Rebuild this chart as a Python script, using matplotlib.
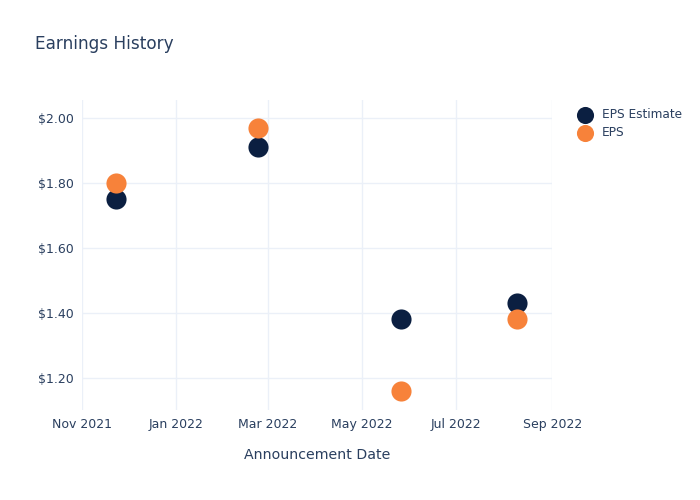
import matplotlib.pyplot as plt
import matplotlib.dates as mdates
from matplotlib.ticker import FuncFormatter
import datetime as dt

dates = ["2021-11-23", "2022-02-23", "2022-05-26", "2022-08-09"]
eps_estimate = [1.75, 1.91, 1.38, 1.43]
eps_actual = [1.80, 1.97, 1.16, 1.38]

x = [dt.datetime.strptime(d, "%Y-%m-%d") for d in dates]
text_col = '#2a3f5f'
grid_col = '#ebf0f8'

fig = plt.figure(figsize=(7, 5), dpi=100)
ax = fig.add_axes([0.117, 0.18, 0.672, 0.62])

ax.scatter(x, eps_estimate, s=210, color='#0b1f41', label='EPS Estimate', zorder=3, linewidths=0)
ax.scatter(x, eps_actual, s=210, color='#f7823a', label='EPS', zorder=3, linewidths=0)

ax.set_xlim(dt.datetime(2021, 11, 1), dt.datetime(2022, 9, 1))
ax.set_ylim(1.10, 2.055)
ax.set_yticks([1.2, 1.4, 1.6, 1.8, 2.0])
ax.yaxis.set_major_formatter(FuncFormatter(lambda v, p: '$%.2f' % v))
ax.xaxis.set_major_locator(mdates.MonthLocator(bymonth=[1, 3, 5, 7, 9, 11]))
ax.xaxis.set_major_formatter(mdates.DateFormatter('%b %Y'))

ax.grid(True, color=grid_col, linewidth=1)
ax.set_axisbelow(True)
for s in ax.spines.values():
    s.set_visible(False)
ax.tick_params(length=0, colors=text_col, labelsize=9, pad=6)

ax.set_xlabel('Announcement Date', fontsize=10.2, color=text_col, labelpad=12)
fig.text(0.05, 0.912, 'Earnings History', fontsize=12.2, color=text_col, va='center')

leg = ax.legend(loc='upper left', bbox_to_anchor=(1.02, 1.01), frameon=False,
                fontsize=8.7, labelcolor=text_col, handletextpad=0.4, labelspacing=0.45,
                markerscale=0.85)

fig.savefig('out.png', dpi=100)
